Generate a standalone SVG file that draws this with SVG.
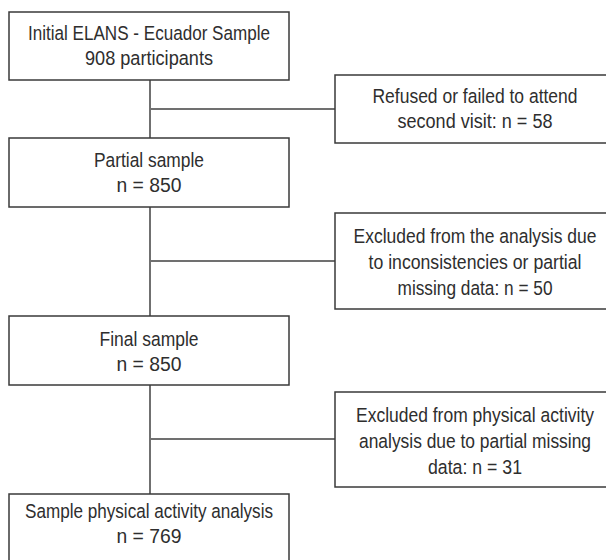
<svg xmlns="http://www.w3.org/2000/svg" width="606" height="560" viewBox="0 0 606 560">
<style>
.box{fill:#fff;stroke:#3a3a3a;stroke-width:1.5}
.c{fill:none;stroke:#707070;stroke-width:2}
text{font-family:"Liberation Sans",Arial,sans-serif;font-size:20.5px;fill:#2e2e2e;text-anchor:middle}
</style>
<rect width="606" height="560" fill="#fff"/>
<g id="connectors">
<line class="c" x1="150" y1="80" x2="150" y2="138"/>
<line class="c" x1="150" y1="109" x2="335" y2="109"/>
<line class="c" x1="150" y1="207" x2="150" y2="316"/>
<line class="c" x1="150" y1="261" x2="335" y2="261"/>
<line class="c" x1="150" y1="385" x2="150" y2="494"/>
<line class="c" x1="150" y1="439" x2="335" y2="439"/>
</g>
<g id="initial">
<rect class="box" x="9" y="12" width="280" height="68"/>
<text x="149" y="40" textLength="242" lengthAdjust="spacingAndGlyphs">Initial ELANS - Ecuador Sample</text>
<text x="149" y="65" textLength="128" lengthAdjust="spacingAndGlyphs">908 participants</text>
</g>
<g id="refused">
<rect class="box" x="335" y="75" width="280" height="68"/>
<text x="475" y="103" textLength="205" lengthAdjust="spacingAndGlyphs">Refused or failed to attend</text>
<text x="475" y="128" textLength="155" lengthAdjust="spacingAndGlyphs">second visit: n = 58</text>
</g>
<g id="partial">
<rect class="box" x="9" y="138" width="280" height="69"/>
<text x="149" y="167" textLength="110" lengthAdjust="spacingAndGlyphs">Partial sample</text>
<text x="149" y="192" textLength="65" lengthAdjust="spacingAndGlyphs">n = 850</text>
</g>
<g id="excluded1">
<rect class="box" x="335" y="213" width="280" height="96"/>
<text x="475" y="243" textLength="243" lengthAdjust="spacingAndGlyphs">Excluded from the analysis due</text>
<text x="475" y="269" textLength="213" lengthAdjust="spacingAndGlyphs">to inconsistencies or partial</text>
<text x="475" y="295" textLength="155" lengthAdjust="spacingAndGlyphs">missing data: n = 50</text>
</g>
<g id="final">
<rect class="box" x="9" y="316" width="280" height="69"/>
<text x="149" y="346" textLength="99" lengthAdjust="spacingAndGlyphs">Final sample</text>
<text x="149" y="371" textLength="65" lengthAdjust="spacingAndGlyphs">n = 850</text>
</g>
<g id="excluded2">
<rect class="box" x="335" y="392" width="280" height="95"/>
<text x="475" y="422" textLength="238" lengthAdjust="spacingAndGlyphs">Excluded from physical activity</text>
<text x="475" y="448" textLength="232" lengthAdjust="spacingAndGlyphs">analysis due to partial missing</text>
<text x="475" y="474" textLength="94" lengthAdjust="spacingAndGlyphs">data: n = 31</text>
</g>
<g id="pa-sample">
<rect class="box" x="9" y="494" width="280" height="69"/>
<text x="149" y="518" textLength="248" lengthAdjust="spacingAndGlyphs">Sample physical activity analysis</text>
<text x="149" y="543" textLength="65" lengthAdjust="spacingAndGlyphs">n = 769</text>
</g>
</svg>
